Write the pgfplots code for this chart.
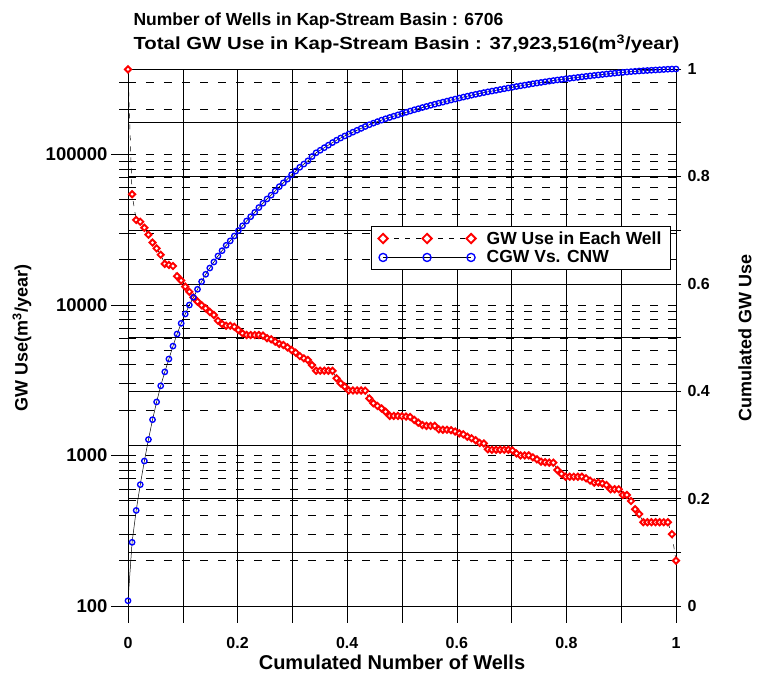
\documentclass[border=0pt]{standalone}
\usepackage{fontspec}
\setmainfont{Liberation Sans}
\usepackage{pgfplots}
\usepackage{pgfplotstable}
\pgfplotsset{compat=1.18}
\pgfplotstableread{
gw cum
366000 0.0098
54200 0.1186
36600 0.178
35600 0.226
32500 0.270
29200 0.310
25900 0.347
23700 0.380
21500 0.410
18700 0.436
18400 0.460
18100 0.484
15500 0.5065
14500 0.5264
13200 0.5438
12200 0.5605
11200 0.5748
10500 0.5898
9930 0.604
9490 0.6177
8960 0.6294
8560 0.6406
7840 0.6518
7460 0.6617
7260 0.6717
7260 0.680
7140 0.689
6800 0.699
6470 0.708
6300 0.717
6300 0.725
6300 0.733
6300 0.742
6240 0.750
6000 0.758
5900 0.765
5690 0.773
5500 0.781
5410 0.788
5220 0.795
5010 0.803
4810 0.810
4570 0.817
4410 0.823
4300 0.829
3980 0.837
3650 0.844
3650 0.8487
3650 0.8535
3650 0.8582
3640 0.8630
3250 0.8674
3010 0.8715
2860 0.8753
2700 0.8789
2700 0.8824
2700 0.8859
2700 0.8894
2690 0.8929
2390 0.8962
2220 0.8992
2130 0.9020
2050 0.9048
1950 0.9074
1830 0.9098
1830 0.9122
1830 0.9146
1820 0.9170
1810 0.9193
1800 0.9217
1720 0.9240
1650 0.9261
1590 0.9283
1570 0.9303
1570 0.9324
1570 0.9344
1490 0.9364
1480 0.9383
1480 0.9402
1470 0.9422
1440 0.9440
1400 0.9459
1380 0.9477
1330 0.9494
1300 0.9512
1260 0.9528
1210 0.9544
1200 0.9560
1100 0.9575
1090 0.9589
1090 0.9603
1090 0.9618
1090 0.9632
1090 0.9646
1080 0.9660
1030 0.9674
1000 0.9687
1000 0.9700
1000 0.9713
971 0.9726
942 0.9738
908 0.9750
900 0.9762
895 0.9774
895 0.9785
800 0.9796
753 0.9806
722 0.9816
722 0.9825
722 0.9835
722 0.9844
722 0.9854
705 0.9863
680 0.9872
660 0.9881
660 0.9889
650 0.9898
636 0.9906
596 0.9914
596 0.9922
596 0.9930
546 0.9937
546 0.9944
498 0.9951
439 0.9957
408 0.9963
360 0.9968
360 0.9972
360 0.9977
360 0.9982
360 0.9986
360 0.9991
360 0.9996
300 0.9999
200 1.0000
}\datatable

\pgfplotsset{
  redstyle/.style={black, line width=0.5pt, dash pattern=on 5pt off 6pt,
    mark=square*, mark size=2.2pt,
    mark options={rotate=45, draw=red, fill=white, line width=1.9pt, solid}},
  bluestyle/.style={black, line width=0.5pt, solid,
    mark=o, mark size=2.7pt,
    mark options={draw=blue, line width=1.35pt, solid}},
}

\begin{document}
\begin{tikzpicture}[font=\bfseries]
\begin{axis}[
  set layers,
  scale only axis, width=548pt, height=537pt,
  xmin=0, xmax=1, ymode=log, ymin=100, ymax=368000,
  axis line style={black, line width=0.8pt},
  xtick={0,0.1,0.2,0.3,0.4,0.5,0.6,0.7,0.8,0.9,1},
  xticklabels={0,,0.2,,0.4,,0.6,,0.8,,1},
  ytick={100,1000,10000,100000},
  yticklabels={100,1000,10000,100000},
  minor ytick={200,300,400,500,600,700,800,900,2000,3000,4000,5000,6000,7000,8000,9000,20000,30000,40000,50000,60000,70000,80000,90000,200000,300000},
  xtick pos=left, ytick pos=left,
  tick align=outside,
  major tick length=17pt, minor tick length=9pt,
  tick style={black, line width=0.6pt},
  xmajorgrids, ymajorgrids, yminorgrids,
  x grid style={black, line width=0.6pt, solid},
  y grid style={black, line width=0.6pt, dash pattern=on 8pt off 10pt},
  xticklabel style={font=\bfseries\fontsize{16}{16}\selectfont, yshift=-11pt},
  yticklabel style={font=\bfseries\fontsize{18.5}{18.5}\selectfont},
]
\addplot[redstyle] table[x expr=\coordindex/134, y=gw] {\datatable};
\coordinate (TL) at (rel axis cs:0,1);
\coordinate (BL) at (rel axis cs:0,0);
\coordinate (TR) at (rel axis cs:1,1);
\coordinate (BR) at (rel axis cs:1,0);
\end{axis}
\begin{axis}[
  set layers,
  scale only axis, width=548pt, height=537pt,
  xmin=0, xmax=1, ymin=0, ymax=1,
  axis x line=none, axis y line*=right,
  axis line style={black, line width=0.8pt},
  ytick={0,0.1,0.2,0.3,0.4,0.5,0.6,0.7,0.8,0.9,1},
  yticklabels={0,,0.2,,0.4,,0.6,,0.8,,1},
  tick align=outside, major tick length=5pt,
  tick style={black, line width=0.6pt},
  ymajorgrids,
  y grid style={black, line width=0.6pt, solid},
  yticklabel style={font=\bfseries\fontsize{16}{16}\selectfont, xshift=3pt},
  legend style={at={(0.4434,0.7076)}, anchor=north west, draw=black, line width=0.8pt,
    font=\bfseries\fontsize{17.5}{17.5}\selectfont, inner xsep=7pt, inner ysep=3pt, row sep=1pt,
    /tikz/every odd column/.append style={column sep=9pt}},
  legend cell align=left,
  legend image code/.code={\draw[#1, every mark/.append style={scale=1.5}] plot coordinates {(0pt,0pt) (44pt,0pt) (88pt,0pt)};},
]
\addlegendimage{redstyle}
\addlegendentry{GW Use in Each Well}
\addplot[bluestyle] table[x expr=\coordindex/134, y=cum] {\datatable};
\addlegendentry{CGW Vs. CNW}
\end{axis}
\node[anchor=base west, font=\bfseries\fontsize{17.5}{17.5}\selectfont] at ([xshift=2pt,yshift=43pt]TL) {Number of Wells in Kap-Stream Basin : 6706};
\node[anchor=base west, font=\bfseries\fontsize{17.5}{17.5}\selectfont] at ([xshift=2pt,yshift=19pt]TL) {\scalebox{1.165}[1]{Total GW Use in Kap-Stream Basin : 37,923,516(m\textsuperscript{3}/year)}};
\node[font=\bfseries\fontsize{20}{20}\selectfont] at ([xshift=264pt,yshift=-56pt]BL) {Cumulated Number of Wells};
\node[rotate=90, font=\bfseries\fontsize{18}{18}\selectfont] at ([xshift=-106pt,yshift=268pt]BL) {GW Use(m\textsuperscript{3}/year)};
\node[rotate=90, font=\bfseries\fontsize{18}{18}\selectfont] at ([xshift=69pt,yshift=268pt]BR) {Cumulated GW Use};
\pgfresetboundingbox
\path[use as bounding box] ([xshift=-128pt,yshift=-69pt]BL) rectangle ([xshift=85pt,yshift=69pt]TR);
\end{tikzpicture}
\end{document}
